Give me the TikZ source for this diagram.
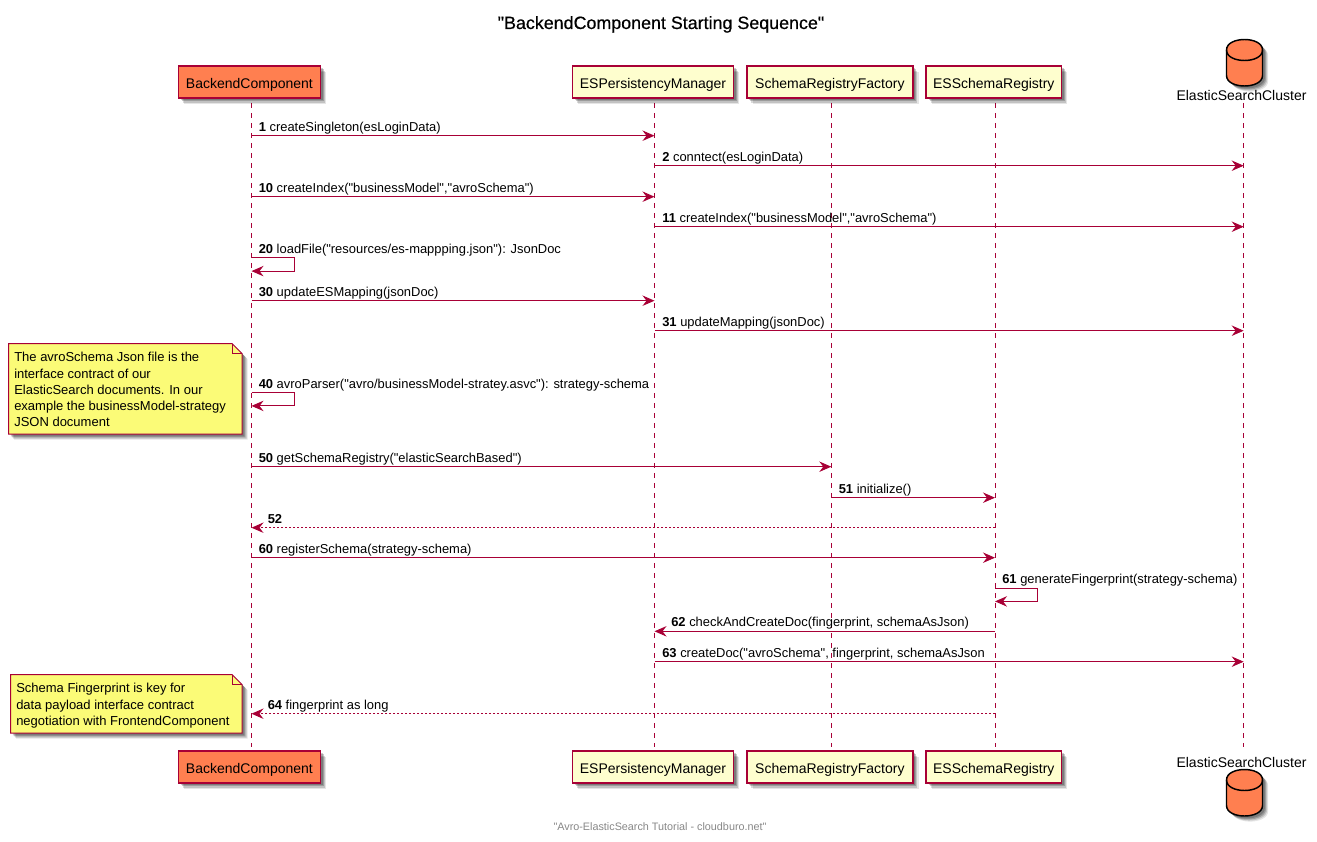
\documentclass[tikz,border=0pt]{standalone}
\usepackage{fontspec}
\newfontfamily\umlfont{Liberation Sans}
\newfontfamily\umltitle[FakeBold=0.5]{Liberation Sans}
\usetikzlibrary{arrows.meta,shadows,calc}
\definecolor{umlred}{HTML}{A80036}
\definecolor{umlcoral}{HTML}{FF7F50}
\definecolor{umlcream}{HTML}{FEFECE}
\definecolor{umlnote}{HTML}{FBFB77}
\definecolor{footgray}{HTML}{888888}
\tikzset{
  softshadow/.style={
    drop shadow={shadow xshift=1.8pt,shadow yshift=-1.8pt,opacity=.2,fill=black},
    drop shadow={shadow xshift=2.6pt,shadow yshift=-2.6pt,opacity=.2,fill=black},
    drop shadow={shadow xshift=3.4pt,shadow yshift=-3.4pt,opacity=.15,fill=black},
    drop shadow={shadow xshift=4.2pt,shadow yshift=-4.2pt,opacity=.1,fill=black}},
  partbase/.style={draw=umlred,line width=1.1pt,inner sep=0pt,text=black,font=\umlfont\fontsize{10.5pt}{12pt}\selectfont,
    minimum height=24pt,text height=9.6pt,text depth=0pt,softshadow},
  coralbox/.style={partbase,fill=umlcoral},
  creambox/.style={partbase,fill=umlcream},
  lifeline/.style={draw=umlred,line width=.75pt,dash pattern=on 3.75pt off 3.75pt},
  msgline/.style={draw=umlred,line width=.75pt,-{Stealth[length=9pt,width=7.8pt,inset=3pt,fill=umlred]}},
  msgdash/.style={msgline,dash pattern=on 1.5pt off 1.5pt},
  msglabel/.style={anchor=base west,inner sep=0pt,text=black,font=\umlfont\fontsize{9.7pt}{12pt}\selectfont},
  notetext/.style={anchor=north west,inner sep=0pt,align=left,text=black,font=\umlfont\fontsize{9.75pt}{12.2pt}\selectfont},
  notebody/.style={draw=umlred,line width=.75pt,fill=umlnote,softshadow},
  dblabel/.style={inner sep=0pt,text=black,font=\umlfont\fontsize{10.5pt}{12pt}\selectfont},
  dbbody/.style={draw=black,line width=1.1pt,fill=umlcoral,softshadow},
}
% #1 name, #2 from lifeline, #3 to lifeline, #4 y, #5 label x, #6 number, #7 text, #8 style
\newcommand{\seqmsg}[8]{%
  \coordinate (#1a) at (#2 |- 0,#4);
  \coordinate (#1b) at (#3 |- 0,#4);
  \draw[#8] (#1a) -- (#1b);
  \node[msglabel] (#1t) at (#5,#4-4.5) {\textbf{#6} #7};
}
% #1 name, #2 lifeline, #3 y top, #4 number, #5 text
\newcommand{\selfmsg}[5]{%
  \coordinate (#1a) at (#2 |- 0,#3);
  \coordinate (#1b) at (#2 |- 0,#3+13.4);
  \draw[msgline] (#1a) -- ++(42.5,0) |- (#1b);
  \node[msglabel] (#1t) at ($(#1a)+(7,-4.5)$) {\textbf{#4} #5};
}
% #1 name, #2 top y
\newcommand{\dbshape}[2]{%
  \path[dbbody] (1226.5,#2+10.5) .. controls (1226.5,#2-3.5) and (1262.5,#2-3.5) .. (1262.5,#2+10.5)
     -- (1262.5,#2+36) .. controls (1262.5,#2+50) and (1226.5,#2+50) .. (1226.5,#2+36) -- cycle;
  \draw[black,line width=1.1pt] (1226.5,#2+10.5) .. controls (1226.5,#2+24.5) and (1262.5,#2+24.5) .. (1262.5,#2+10.5);
}
\begin{document}
\begin{tikzpicture}[x=0.75pt,y=-0.75pt]
\useasboundingbox (0,0) rectangle (1317,842);
\fill[white] (0,0) rectangle (1317,842);

\node[inner sep=0pt,anchor=base,text=black,font=\umltitle\fontsize{13.4pt}{16pt}\selectfont] (title) at (661,29) {"BackendComponent Starting Sequence"};

% lifeline ends
\coordinate (be) at (251.5,103);  \coordinate (beend) at (251.5,747);
\coordinate (es) at (654.5,103);  \coordinate (esend) at (654.5,747);
\coordinate (sf) at (831.3,103);  \coordinate (sfend) at (831.3,747);
\coordinate (sr) at (995,103);    \coordinate (srend) at (995,747);
\coordinate (ec) at (1243.7,103); \coordinate (ecend) at (1243.7,747);
\foreach \a/\b in {be/beend,es/esend,sf/sfend,sr/srend,ec/ecend}
  \draw[lifeline] (\a) -- (\b);

% top participants
\node[coralbox,minimum width=106.5pt] (beT) at (249.4,82) {BackendComponent};
\node[creambox,minimum width=121pt]   (esT) at (653,82)   {ESPersistencyManager};
\node[creambox,minimum width=124.5pt] (sfT) at (829.9,82) {SchemaRegistryFactory};
\node[creambox,minimum width=101.5pt] (srT) at (993.8,82) {ESSchemaRegistry};
\dbshape{dbT}{39.5}
\node[dblabel] (ecT) at (1241.5,95) {ElasticSearchCluster};

% bottom participants
\node[coralbox,minimum width=106.5pt] (beB) at (249.4,767) {BackendComponent};
\node[creambox,minimum width=121pt]   (esB) at (653,767)   {ESPersistencyManager};
\node[creambox,minimum width=124.5pt] (sfB) at (829.9,767) {SchemaRegistryFactory};
\node[creambox,minimum width=101.5pt] (srB) at (993.8,767) {ESSchemaRegistry};
\node[dblabel] (ecB) at (1241.5,762) {ElasticSearchCluster};
\dbshape{dbB}{769.5}

% notes
\path[notebody] (8.5,343.5) -- (232,343.5) -- (242,353.5) -- (242,434) -- (8.5,434) -- cycle;
\draw[draw=umlred,line width=.75pt] (232,343.5) -- (232,353.5) -- (242,353.5);
\node[notetext] (note1) at (14,352.2) {The avroSchema Json file is the\\interface contract of our\\ElasticSearch documents. In our\\example the businessModel-strategy\\JSON document};

\path[notebody] (10.5,674.5) -- (232,674.5) -- (242,684.5) -- (242,733) -- (10.5,733) -- cycle;
\draw[draw=umlred,line width=.75pt] (232,674.5) -- (232,684.5) -- (242,684.5);
\node[notetext] (note2) at (16,683.2) {Schema Fingerprint is key for\\data payload interface contract\\negotiation with FrontendComponent};

% messages
\seqmsg{m1}{be}{es}{135.7}{258.5}{1}{createSingleton(esLoginData)}{msgline}
\seqmsg{m2}{es}{ec}{165.7}{662}{2}{conntect(esLoginData)}{msgline}
\seqmsg{m10}{be}{es}{196.7}{258.5}{10}{createIndex("businessModel","avroSchema")}{msgline}
\seqmsg{m11}{es}{ec}{226.7}{662}{11}{createIndex("businessModel","avroSchema")}{msgline}
\selfmsg{m20}{be}{257.7}{20}{loadFile("resources/es-mappping.json"): JsonDoc}
\seqmsg{m30}{be}{es}{300.7}{258.5}{30}{updateESMapping(jsonDoc)}{msgline}
\seqmsg{m31}{es}{ec}{330.7}{662}{31}{updateMapping(jsonDoc)}{msgline}
\selfmsg{m40}{be}{392.5}{40}{avroParser("avro/businessModel-stratey.asvc"): strategy-schema}
\seqmsg{m50}{be}{sf}{466.7}{258.5}{50}{getSchemaRegistry("elasticSearchBased")}{msgline}
\seqmsg{m51}{sf}{sr}{497.7}{838.5}{51}{initialize()}{msgline}
\seqmsg{m52}{sr}{be}{527.7}{267.5}{52}{}{msgdash}
\seqmsg{m60}{be}{sr}{557.7}{258.5}{60}{registerSchema(strategy-schema)}{msgline}
\selfmsg{m61}{sr}{588}{61}{generateFingerprint(strategy-schema)}
\seqmsg{m62}{sr}{es}{631.3}{671}{62}{checkAndCreateDoc(fingerprint, schemaAsJson)}{msgline}
\seqmsg{m63}{es}{ec}{661.7}{662}{63}{createDoc("avroSchema", fingerprint, schemaAsJson}{msgline}
\seqmsg{m64}{sr}{be}{713.7}{267.5}{64}{fingerprint as long}{msgdash}

\node[inner sep=0pt,text=footgray,font=\umlfont\fontsize{8.1pt}{9pt}\selectfont] (foot) at (660,827) {"Avro-ElasticSearch Tutorial - cloudburo.net"};
\end{tikzpicture}
\end{document}
